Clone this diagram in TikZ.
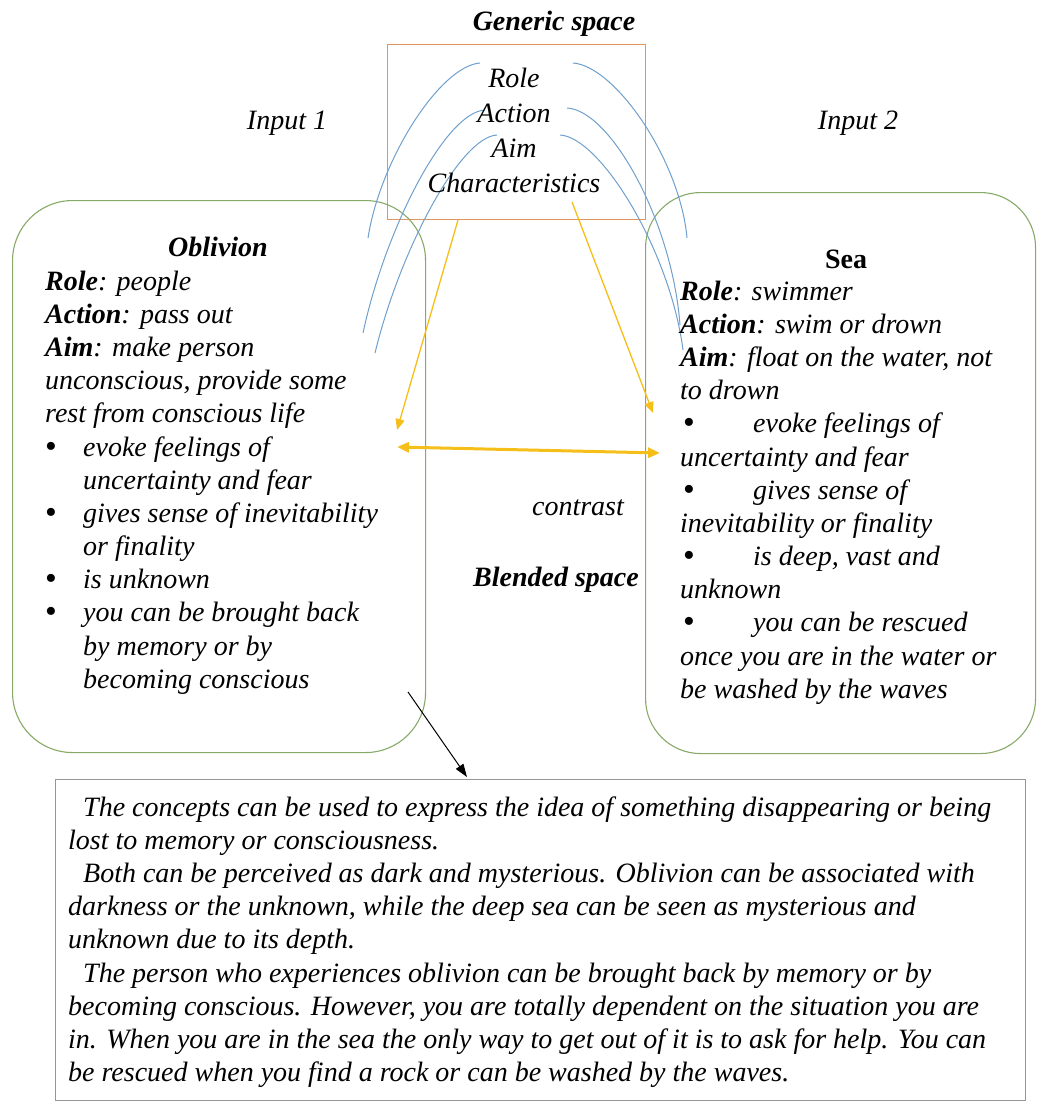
\documentclass[tikz,border=0pt]{standalone}
\usepackage{fontspec}
\setmainfont{Liberation Serif}
\usetikzlibrary{arrows.meta}

\definecolor{arcblue}{RGB}{110,160,205}
\definecolor{genorange}{RGB}{225,150,95}
\definecolor{boxgreen}{RGB}{135,170,105}
\definecolor{boxgray}{RGB}{150,150,150}
\definecolor{gold}{RGB}{245,190,25}

\begin{document}
\begin{tikzpicture}[x=1pt,y=-1pt,
		txt/.style={inner sep=0pt, font=\fontsize{28}{33.17}\selectfont\itshape},
		hd/.style={inner sep=0pt, font=\fontsize{28}{33.17}\selectfont\bfseries\itshape},
		spacebox/.style={draw=#1, line width=1.1pt, anchor=north west, inner sep=0pt},
		mapline/.style={draw=arcblue, line width=1pt},
		yarrow/.style={draw=gold, line width=1.3pt, -{Triangle[length=11pt,width=9pt]}}]
		\def \blt {\raisebox{-1pt}{\scalebox{1.2}{\upshape\textbullet}}}
		\def \bul {\makebox[38pt][l]{\blt}}
		\def \bulr {\makebox[73pt][l]{\hspace{3pt}\blt}}
		
		\useasboundingbox (0,0) rectangle (1038,1113);
		
		%spaces
		\node[spacebox=genorange, minimum width=258pt, minimum height=175pt] (generic) at (387,44) {};
		\node[spacebox=boxgreen, rounded corners=60pt, minimum width=413pt, minimum height=552pt] (input1) at (12,200) {};
		\node[spacebox=boxgreen, rounded corners=55pt, minimum width=390pt, minimum height=561pt] (input2) at (645,192) {};
		\node[spacebox=boxgray, minimum width=970pt, minimum height=321pt] (blend) at (55,779) {};
		
		%cross-space mapping
		\draw[mapline] (480,63) .. controls (440,66) and (380,160) .. (368,238);
		\draw[mapline] (485,110) .. controls (445,112) and (385,230) .. (363,333);
		\draw[mapline] (497,135) .. controls (460,137) and (400,250) .. (375,353);
		\draw[mapline] (573,63) .. controls (615,66) and (680,160) .. (687,238);
		\draw[mapline] (567,108) .. controls (610,110) and (672,220) .. (680,325);
		\draw[mapline] (560,135) .. controls (600,137) and (670,250) .. (683,350);
		
		%labels
		\node[hd, anchor=base] (gentitle) at (554,31) {Generic space};
		\node[txt, anchor=base] (in1) at (287,130) {Input 1};
		\node[txt, anchor=base] (in2) at (858,130) {Input 2};
		\node[txt, anchor=base] (contr) at (578,515) {contrast};
		\node[hd, anchor=base] (blendtitle) at (556,586) {Blended space};
		
		%generic space
		\node[txt, align=center, anchor=north, font=\fontsize{28}{35}\selectfont\itshape] (genlist) at (514,62.5)
		{\strut Role\\Action\\Aim\\Characteristics};
		
		%input 1
		\node[hd, anchor=base] (obl) at (218,256) {Oblivion};
		\node[txt, align=left, anchor=north west] (obltext) at (45,266.8)
		{\strut\textbf{Role}: people\\
			\textbf{Action}: pass out\\
			\textbf{Aim}: make person\\
			unconscious, provide some\\
			rest from conscious life\\
			\bul evoke feelings of\\
			\hspace*{38pt}uncertainty and fear\\
			\bul gives sense of inevitability\\
			\hspace*{38pt}or finality\\
			\bul is unknown\\
			\bul you can be brought back\\
			\hspace*{38pt}by memory or by\\
			\hspace*{38pt}becoming conscious};
		
		%input 2
		\node[inner sep=0pt, anchor=base, font=\fontsize{28}{33.17}\selectfont\bfseries] (sea) at (846,268) {Sea};
		\node[txt, align=left, anchor=north west] (seatext) at (680,276.8)
		{\strut\textbf{Role}: swimmer\\
			\textbf{Action}: swim or drown\\
			\textbf{Aim}: float on the water, not\\
			to drown\\
			\bulr evoke feelings of\\
			uncertainty and fear\\
			\bulr gives sense of\\
			inevitability or finality\\
			\bulr is deep, vast and\\
			unknown\\
			\bulr you can be rescued\\
			once you are in the water or\\
			be washed by the waves};
		
		%blended space
		\node[txt, align=left, anchor=north west] (blendtext) at (68,792.8)
		{\strut\hspace*{15pt}The concepts can be used to express the idea of something disappearing or being\\
			lost to memory or consciousness.\\
			\hspace*{15pt}Both can be perceived as dark and mysterious. Oblivion can be associated with\\
			darkness or the unknown, while the deep sea can be seen as mysterious and\\
			unknown due to its depth.\\
			\hspace*{15pt}The person who experiences oblivion can be brought back by memory or by\\
			becoming conscious. However, you are totally dependent on the situation you are\\
			in. When you are in the sea the only way to get out of it is to ask for help. You can\\
			be rescued when you find a rock or can be washed by the waves.};
		
		%arrows
		\coordinate (gen-l) at (458,220);
		\coordinate (gen-r) at (572,202);
		\coordinate (in1-pt) at (397,430);
		\coordinate (in2-pt) at (653,413);
		\coordinate (in1-c) at (397,447);
		\coordinate (in2-c) at (660,453);
		\coordinate (in1-out) at (408,692);
		\coordinate (blend-in) at (467,777);
		\draw[yarrow] (gen-l) -- (in1-pt);
		\draw[yarrow] (gen-r) -- (in2-pt);
		\draw[draw=gold, line width=3pt, {Triangle[length=12pt,width=10pt]}-{Triangle[length=12pt,width=10pt]}] (in1-c) -- (in2-c);
		\draw[line width=1pt, -{Triangle[length=13pt,width=9pt]}] (in1-out) -- (blend-in);
	\end{tikzpicture}
\end{document}
